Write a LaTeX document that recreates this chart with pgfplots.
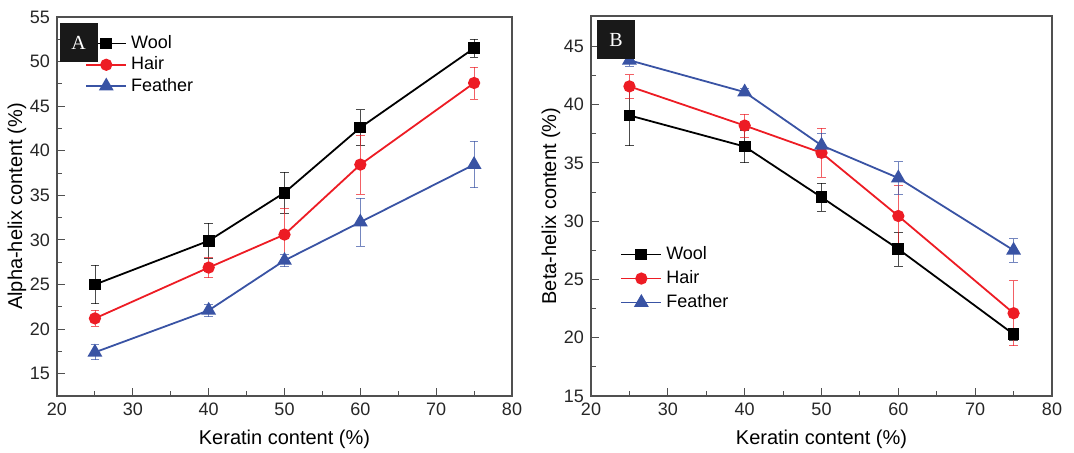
\documentclass[border=0pt]{standalone}
\usepackage{pgfplots}
\pgfplotsset{compat=1.18}
\usepackage{fontspec}
\setmainfont{Liberation Sans}
\newfontfamily\serifbox{Liberation Serif}

\definecolor{cred}{RGB}{237,28,36}
\definecolor{cblue}{RGB}{57,83,164}
\definecolor{frame}{RGB}{80,80,80}

\pgfplotstableread{
x  wy   we   hy   he   fy   fe
25 25.0 2.15 21.2 0.9  17.4 0.85
40 29.9 2.0  26.9 1.15 22.1 0.7
50 35.3 2.3  30.6 2.9  27.7 0.7
60 42.6 2.0  38.45 3.3 32.0 2.7
75 51.5 1.0  47.6 1.8  38.45 2.6
}\alphatab

\pgfplotstableread{
x  wy    we   hy    he   fy    fe
25 39.07 2.6  41.56 1.0  43.8  0.5
40 36.4  1.4  38.2  1.0  41.07 0.3
50 32.05 1.2  35.86 2.1  36.5  1.05
60 27.6  1.45 30.44 2.6  33.7  1.4
75 20.3  0.5  22.1  2.8  27.5  1.0
}\betatab

\pgfplotsset{
  panel/.style={
    scale only axis,
    xmin=20, xmax=80,
    xtick={20,30,...,80},
    minor x tick num=1,
    tick pos=left,
    tick align=inside,
    major tick length=4pt,
    minor tick length=2.5pt,
    axis line style={frame, line width=0.6pt},
    every tick/.style={frame, line width=0.5pt},
    /pgf/number format/assume math mode=true,
    tick label style={font=\fontsize{9}{10}\selectfont, text=black!85},
    label style={font=\fontsize{9.5}{11}\selectfont, text=black!85},
    xlabel={Keratin content (\%)},
    every axis x label/.style={at={(rel axis cs:0.5,0)}, anchor=center, yshift=-21.5pt},
    every axis y label/.style={at={(rel axis cs:0,0.5)}, anchor=center, rotate=90, yshift=20pt},
    legend cell align=left,
    legend style={draw=none, fill=none, inner sep=0pt, font=\fontsize{9}{10}\selectfont},
    legend image code/.code={%
      \draw[##1, mark=none] (0pt,0pt) -- (20pt,0pt);
      \draw[##1] plot coordinates {(10pt,0pt)};},
    every axis plot/.append style={line width=0.9pt},
    error bars/error bar style={line width=0.4pt, opacity=0.7},
    error bars/error mark options={rotate=90, mark size=2.2pt, line width=0.4pt},
  },
  wool/.style={black, mark=square*, mark size=2.5pt, mark options={fill=black}},
  hair/.style={cred, mark=*, mark size=2.6pt, mark options={fill=cred}},
  feath/.style={cblue, mark=triangle*, mark size=3.4pt, mark options={fill=cblue}},
}

\begin{document}
\begin{tikzpicture}
\useasboundingbox (-28.5pt,-28.5pt) rectangle (508.5pt,198pt);

\begin{axis}[panel,
  at={(0pt,0pt)}, anchor=south west,
  width=227.5pt, height=189.5pt,
  ymin=12.5, ymax=55,
  ytick={15,20,...,55},
  minor y tick num=1,
  ylabel={Alpha-helix content (\%)},
  legend style={at={(0.0615,0.963)}, anchor=north west, row sep=-1.35pt},
]
\addplot[wool, error bars/.cd, y dir=both, y explicit] table[x=x, y=wy, y error=we] {\alphatab};
\addplot[hair, error bars/.cd, y dir=both, y explicit] table[x=x, y=hy, y error=he] {\alphatab};
\addplot[feath, error bars/.cd, y dir=both, y explicit] table[x=x, y=fy, y error=fe] {\alphatab};
\legend{Wool, Hair, Feather}
\end{axis}

\begin{axis}[panel,
  at={(267pt,0pt)}, anchor=south west,
  width=230.5pt, height=190pt,
  ymin=15, ymax=47.6,
  ytick={15,20,...,45},
  minor y tick num=1,
  ylabel={Beta-helix content (\%)},
  legend style={at={(0.063,0.405)}, anchor=north west, row sep=0pt},
]
\addplot[wool, error bars/.cd, y dir=both, y explicit] table[x=x, y=wy, y error=we] {\betatab};
\addplot[hair, error bars/.cd, y dir=both, y explicit] table[x=x, y=hy, y error=he] {\betatab};
\addplot[feath, error bars/.cd, y dir=both, y explicit] table[x=x, y=fy, y error=fe] {\betatab};
\legend{Wool, Hair, Feather}
\end{axis}

\node[fill=black!90, text=white, minimum width=19pt, minimum height=19.5pt, inner sep=0pt,
      font=\serifbox\fontsize{10}{10}\selectfont] at (10.75pt,176.75pt) {A};
\node[fill=black!90, text=white, minimum width=19pt, minimum height=19.5pt, inner sep=0pt,
      font=\serifbox\fontsize{10}{10}\selectfont] at (279.5pt,178pt) {B};
\end{tikzpicture}
\end{document}
